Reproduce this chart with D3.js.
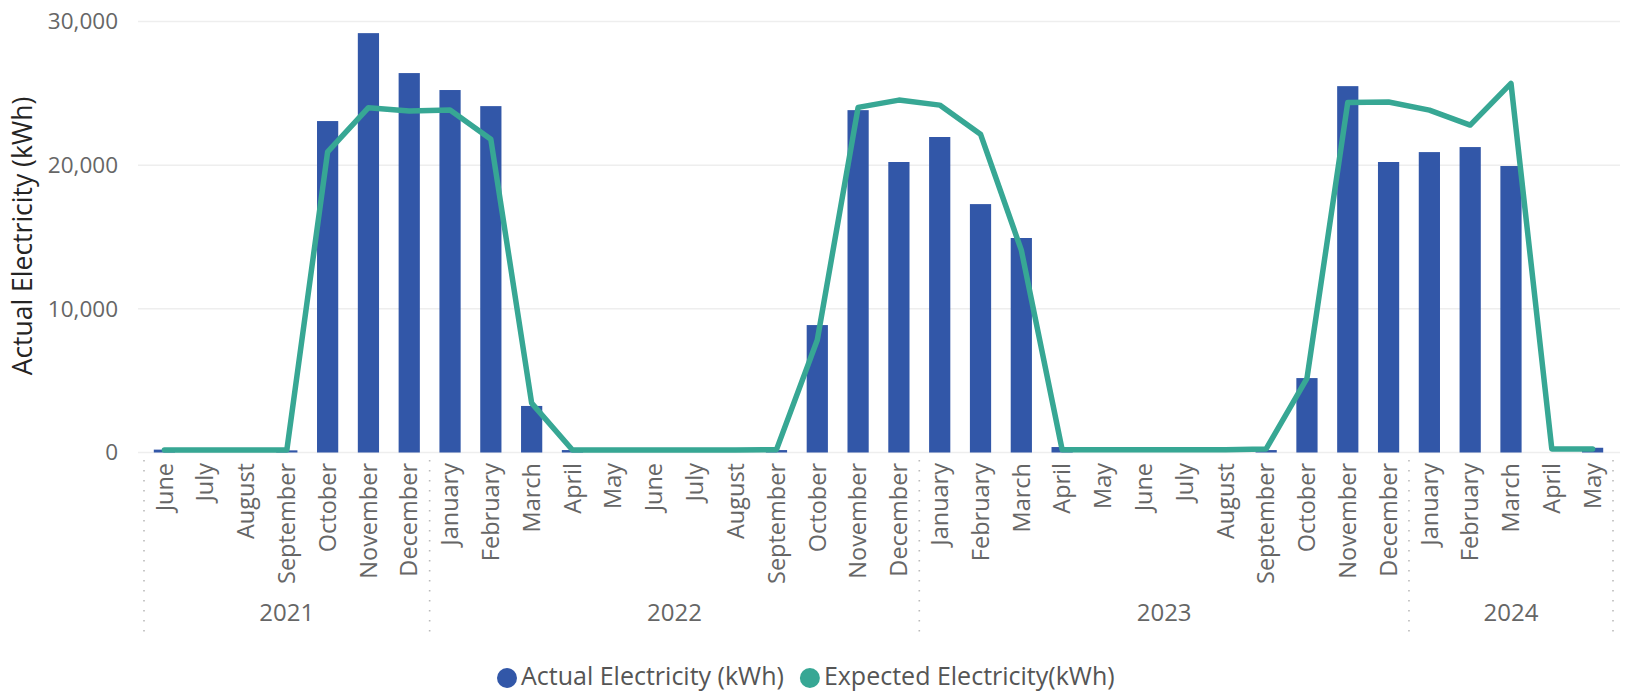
<!DOCTYPE html>
<html>
<head>
<meta charset="utf-8">
<script src="https://cdn.jsdelivr.net/npm/d3@7"></script>
<style>
  html, body { margin: 0; padding: 0; background: #fff; }
  svg { display: block; }
  text { font-family: "Segoe UI", "Open Sans", "Noto Sans", sans-serif; }
</style>
</head>
<body>
<svg id="chart" width="1625" height="693"></svg>
<script>
// ---- data ----
const months = ["June","July","August","September","October","November","December",
  "January","February","March","April","May","June","July","August","September","October","November","December",
  "January","February","March","April","May","June","July","August","September","October","November","December",
  "January","February","March","April","May"];
const years = [2021,2021,2021,2021,2021,2021,2021,
  2022,2022,2022,2022,2022,2022,2022,2022,2022,2022,2022,2022,
  2023,2023,2023,2023,2023,2023,2023,2023,2023,2023,2023,2023,
  2024,2024,2024,2024,2024];
const actual = [200,0,0,150,23070,29190,26410,
  25230,24110,3240,170,0,0,0,0,170,8870,23830,20220,
  21960,17290,14930,380,0,0,0,0,170,5180,25500,20220,
  20910,21260,19940,0,330];
const expected = [170,170,170,170,20930,24000,23770,
  23840,21800,3440,170,170,170,170,170,200,7830,24020,24530,
  24180,22160,14090,200,200,200,200,200,250,5160,24370,24400,
  23830,22790,25690,250,250];
const yTicks = [0,10000,20000,30000];
const seriesNames = ["Actual Electricity (kWh)","Expected Electricity(kWh)"];
const colors = ["#3257A8","#37A794"];
const yTitle = "Actual Electricity (kWh)";

// ---- layout ----
const svg = d3.select("#chart");
const x0 = 144, x1 = 1613, yTop = 21.5, yBase = 452.5;
const idx = d3.range(months.length);
const x = d3.scaleBand().domain(idx).range([x0, x1]).paddingInner(0.48).paddingOuter(0.24);
const y = d3.scaleLinear().domain([0, 30000]).range([yBase, yTop]);
const cx = i => x(i) + x.bandwidth() / 2;

// gridlines + y tick labels
svg.append("g").selectAll("line").data(yTicks).join("line")
  .attr("x1", 138).attr("x2", 1620)
  .attr("y1", d => y(d)).attr("y2", d => y(d))
  .attr("stroke", "#eeeeee").attr("stroke-width", 1.5);
const yAxis = d3.axisLeft(y).tickValues(yTicks).tickFormat(d3.format(",")).tickSize(0).tickPadding(0);
const ga = svg.append("g").attr("transform", "translate(118,0)").call(yAxis);
ga.select(".domain").remove();
ga.selectAll("text").attr("fill", "#666").style("font-size", "22.5px")
  .style("font-family", "\"Segoe UI\", \"Open Sans\", sans-serif");

// y title
svg.append("text").attr("transform", `translate(32,236) rotate(-90)`)
  .attr("text-anchor", "middle").attr("fill", "#252423")
  .style("font-size", "26.5px").text(yTitle);

// bars
svg.append("g").selectAll("rect").data(idx).join("rect")
  .attr("x", i => x(i)).attr("width", x.bandwidth())
  .attr("y", i => y(actual[i])).attr("height", i => yBase - y(actual[i]))
  .attr("fill", colors[0]);

// line
const line = d3.line().x(i => cx(i)).y(i => y(expected[i]));
svg.append("path").datum(idx).attr("d", line)
  .attr("fill", "none").attr("stroke", colors[1]).attr("stroke-width", 5.5)
  .attr("stroke-linejoin", "round").attr("stroke-linecap", "round");

// month labels
svg.append("g").selectAll("text").data(idx).join("text")
  .attr("transform", i => `translate(${cx(i)},463) rotate(-90)`)
  .attr("text-anchor", "end").attr("dy", "0.35em")
  .attr("fill", "#666").style("font-size", "23.5px")
  .text(i => months[i]);

// year groups
const groups = d3.groups(idx, i => years[i]).map(([yr, arr]) => ({yr, start: arr[0], end: arr[arr.length - 1]}));
const step = x.step();
const bounds = groups.map(g => x(g.start) - x.paddingInner() * step / 2);
bounds.push(x1);
svg.append("g").selectAll("line").data(bounds).join("line")
  .attr("x1", d => d).attr("x2", d => d).attr("y1", 460).attr("y2", 634)
  .attr("stroke", "#bbb").attr("stroke-width", 1.6).attr("stroke-dasharray", "1.6,8.4");
svg.append("g").selectAll("text").data(groups).join("text")
  .attr("x", g => (x(g.start) + x(g.end) + x.bandwidth()) / 2)
  .attr("y", 621).attr("text-anchor", "middle")
  .attr("fill", "#666").style("font-size", "24px")
  .text(g => g.yr);

// legend
const lg = svg.append("g");
const items = lg.selectAll("g").data(seriesNames).join("g");
items.append("circle").attr("r", 10).attr("cy", 678).attr("fill", (d, i) => colors[i]);
items.append("text").attr("y", 685).attr("fill", "#555").style("font-size", "25px").text(d => d);
let cur = 0;
items.each(function(d, i) {
  const g = d3.select(this);
  const w = g.select("text").node().getComputedTextLength();
  g.select("circle").attr("cx", cur + 10);
  g.select("text").attr("x", cur + 24);
  cur += 24 + w + 16;
});
lg.attr("transform", `translate(${497},0)`);
</script>
</body>
</html>
